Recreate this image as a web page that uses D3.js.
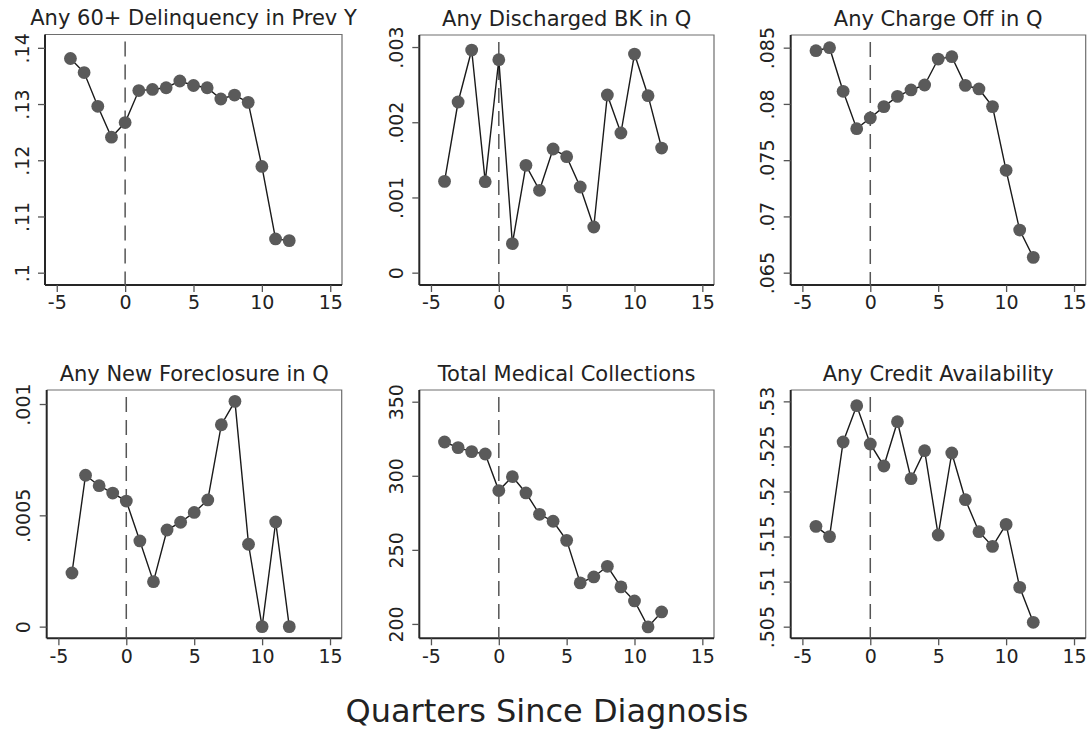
<!DOCTYPE html>
<html>
<head>
<meta charset="utf-8">
<script src="https://cdn.jsdelivr.net/npm/d3@7"></script>
<style>
  html, body { margin: 0; padding: 0; background: #fff; }
  svg { display: block; font-family: "DejaVu Sans", sans-serif; }
</style>
</head>
<body>
<svg id="chart" width="1090" height="730"></svg>
<script>
// Event-study means by quarter relative to diagnosis
const quarters = [-4, -3, -2, -1, 0, 1, 2, 3, 4, 5, 6, 7, 8, 9, 10, 11, 12];

const delinq60 = [.1381, .1356, .1296, .1241, .1267, .1324, .1326, .1329, .1341, .1333, .1329, .1309, .1316, .1303, .1189, .1060, .1057];
const dischargedBK = [.001214, .002269, .00296, .00121, .002832, .000386, .001427, .001095, .001644, .001542, .001139, .000607, .002362, .001857, .002907, .002353, .001657];
const chargeOff = [.08473, .0850, .08112, .0778, .07875, .07976, .08067, .08124, .08168, .08399, .0842, .08165, .08133, .07976, .0741, .06879, .06636];
const newForeclosure = [.000241, .00068, .000633, .0006, .000564, .000385, .000202, .000434, .000469, .000513, .000569, .000907, .001012, .00037, 0, .00047, 0];
const medCollections = [322.8, 319.0, 316.3, 314.7, 290.0, 299.4, 288.4, 274.0, 269.3, 256.4, 227.7, 231.7, 238.9, 225.0, 215.5, 198.0, 208.1];
const creditAvail = [.51613, .51499, .52549, .52952, .52527, .52283, .52774, .52142, .52453, .51517, .52427, .51909, .51554, .51391, .51635, .50936, .50548];

const titles = ["Any 60+ Delinquency in Prev Y", "Any Discharged BK in Q", "Any Charge Off in Q",
                "Any New Foreclosure in Q", "Total Medical Collections", "Any Credit Availability"];

const xTicks = [-5, 0, 5, 10, 15];

const yTicks1 = [.1, .11, .12, .13, .14];
const yLabels1 = [".1", ".11", ".12", ".13", ".14"];
const yTicks2 = [0, .001, .002, .003];
const yLabels2 = ["0", ".001", ".002", ".003"];
const yTicks3 = [.065, .07, .075, .08, .085];
const yLabels3 = [".065", ".07", ".075", ".08", ".085"];
const yTicks4 = [0, .0005, .001];
const yLabels4 = ["0", ".0005", ".001"];
const yTicks5 = [200, 250, 300, 350];
const yLabels5 = ["200", "250", "300", "350"];
const yTicks6 = [.505, .51, .515, .52, .525, .53];
const yLabels6 = [".505", ".51", ".515", ".52", ".525", ".53"];

const xLabel = "Quarters Since Diagnosis";

// Panel layout and axis ranges
const panels = [
  { title: titles[0], values: delinq60,       ticks: yTicks1, labels: yLabels1, yDom: [.09781, .14237],   box: [45, 34.5, 342, 285] },
  { title: titles[1], values: dischargedBK,   ticks: yTicks2, labels: yLabels2, yDom: [-.000164, .00316], box: [419.3, 35, 714, 285] },
  { title: titles[2], values: chargeOff,      ticks: yTicks3, labels: yLabels3, yDom: [.063904, .086126], box: [790.7, 35, 1085.7, 285] },
  { title: titles[3], values: newForeclosure, ticks: yTicks4, labels: yLabels4, yDom: [-.0000524, .001063], box: [46.7, 390, 341.7, 638.3] },
  { title: titles[4], values: medCollections, ticks: yTicks5, labels: yLabels5, yDom: [190.3, 357.9],     box: [419.3, 390, 714, 638.3] },
  { title: titles[5], values: creditAvail,    ticks: yTicks6, labels: yLabels6, yDom: [.50371, .53126],   box: [790.7, 390, 1085.7, 638.3] }
];

const xDom = [-5.86, 15.86];
const svg = d3.select("#chart");
const textColor = "#222";

panels.forEach(p => {
  const [x0, y0, x1, y1] = p.box;
  const x = d3.scaleLinear().domain(xDom).range([x0, x1]);
  const y = d3.scaleLinear().domain(p.yDom).range([y1, y0]);
  const g = svg.append("g");

  // light frame on top and right
  g.append("path")
    .attr("d", `M${x0},${y0}H${x1}V${y1}`)
    .attr("fill", "none").attr("stroke", "#6e6e6e").attr("stroke-width", 1.2);

  // x axis
  const xa = g.append("g").attr("transform", `translate(0,${y1})`)
    .call(d3.axisBottom(x).tickValues(xTicks).tickFormat(d3.format("d")).tickSize(7).tickPadding(4));
  xa.select(".domain").attr("stroke", "#262626").attr("stroke-width", 2)
    .attr("d", `M${x0},0H${x1}`);
  xa.selectAll(".tick line").attr("stroke", "#555").attr("stroke-width", 1.3);
  xa.selectAll(".tick text").attr("fill", textColor).attr("font-size", 19)
    .attr("font-family", "DejaVu Sans").text(d => d < 0 ? "-" + Math.abs(d) : d);

  // y axis
  const ya = g.append("g").attr("transform", `translate(${x0},0)`)
    .call(d3.axisLeft(y).tickValues(p.ticks).tickFormat((d, i) => p.labels[i]).tickSize(7));
  ya.select(".domain").attr("stroke", "#262626").attr("stroke-width", 2)
    .attr("d", `M0,${y0}V${y1}`);
  ya.selectAll(".tick line").attr("stroke", "#555").attr("stroke-width", 1.3);
  ya.selectAll(".tick text")
    .attr("fill", textColor).attr("font-size", 19).attr("font-family", "DejaVu Sans")
    .attr("x", null).attr("dy", null)
    .attr("text-anchor", "middle")
    .attr("transform", "translate(-16.5,0) rotate(-90)");

  // vertical reference line at diagnosis
  g.append("line")
    .attr("x1", x(0)).attr("x2", x(0))
    .attr("y1", y0 + 7).attr("y2", y1)
    .attr("stroke", "#555").attr("stroke-width", 1.5)
    .attr("stroke-dasharray", "15,8");

  // connected series
  const line = d3.line().x((d, i) => x(quarters[i])).y(d => y(d));
  g.append("path").datum(p.values)
    .attr("d", line).attr("fill", "none")
    .attr("stroke", "#1a1a1a").attr("stroke-width", 1.4);

  g.selectAll("circle.pt").data(p.values).enter().append("circle")
    .attr("class", "pt")
    .attr("cx", (d, i) => x(quarters[i])).attr("cy", d => y(d))
    .attr("r", 6.4).attr("fill", "#5a5a5a");

  // panel title
  g.append("text")
    .attr("x", (x0 + x1) / 2).attr("y", y0 - 9.5)
    .attr("text-anchor", "middle").attr("font-size", 21)
    .attr("fill", textColor).text(p.title);
});

svg.append("text")
  .attr("x", 547).attr("y", 722)
  .attr("text-anchor", "middle").attr("font-size", 32)
  .attr("fill", textColor).text(xLabel);
</script>
</body>
</html>
